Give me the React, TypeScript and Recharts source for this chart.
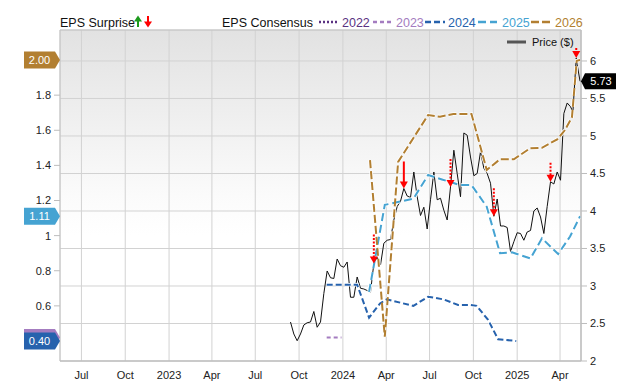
import React from 'react';
import { ComposedChart, Line, XAxis, YAxis, CartesianGrid, ReferenceDot, ReferenceArea } from 'recharts';

const FONT = '"Liberation Sans", Arial, Helvetica, sans-serif';

// ---------- data ----------
const xDomainDates = ['2022-05-17', '2025-05-15'];
const xTickDates = ['2022-07-01', '2022-10-01', '2023-01-01', '2023-04-01', '2023-07-01', '2023-10-01', '2024-01-01', '2024-04-01', '2024-07-01', '2024-10-01', '2025-01-01', '2025-04-01'];
const xTickLabels = ['Jul', 'Oct', '2023', 'Apr', 'Jul', 'Oct', '2024', 'Apr', 'Jul', 'Oct', '2025', 'Apr'];
const epsTicks = [0.6, 0.8, 1, 1.2, 1.4, 1.6, 1.8];
const priceTicks = [2, 2.5, 3, 3.5, 4, 4.5, 5, 5.5, 6];

const priceDates = [
  '2023-09-13', '2023-09-20', '2023-09-27', '2023-10-04', '2023-10-11', '2023-10-18', '2023-10-25', '2023-11-01', '2023-11-08', '2023-11-15',
  '2023-11-22', '2023-11-29', '2023-12-06', '2023-12-13', '2023-12-20', '2023-12-27', '2024-01-03', '2024-01-10', '2024-01-17', '2024-01-24',
  '2024-01-31', '2024-02-07', '2024-02-14', '2024-02-21', '2024-02-28', '2024-03-06', '2024-03-13', '2024-03-20', '2024-03-27', '2024-04-03',
  '2024-04-10', '2024-04-17', '2024-04-24', '2024-05-01', '2024-05-08', '2024-05-15', '2024-05-22', '2024-05-29', '2024-06-05', '2024-06-12',
  '2024-06-19', '2024-06-26', '2024-07-03', '2024-07-10', '2024-07-17', '2024-07-24', '2024-07-31', '2024-08-07', '2024-08-14', '2024-08-21',
  '2024-08-28', '2024-09-04', '2024-09-11', '2024-09-18', '2024-09-25', '2024-10-02', '2024-10-09', '2024-10-16', '2024-10-23', '2024-10-30',
  '2024-11-06', '2024-11-13', '2024-11-20', '2024-11-27', '2024-12-04', '2024-12-11', '2024-12-18', '2024-12-25', '2025-01-01', '2025-01-08',
  '2025-01-15', '2025-01-22', '2025-01-29', '2025-02-05', '2025-02-12', '2025-02-19', '2025-02-26', '2025-03-05', '2025-03-12', '2025-03-19',
  '2025-03-26', '2025-04-02', '2025-04-09', '2025-04-16', '2025-04-23', '2025-04-28', '2025-05-05', '2025-05-07', '2025-05-13',
];
const priceValues = [
  2.52, 2.36, 2.27, 2.36, 2.48, 2.51, 2.52, 2.66, 2.45, 2.52,
  2.90, 3.20, 3.11, 3.10, 3.36, 3.27, 3.25, 3.32, 2.85, 2.85,
  3.12, 2.97, 2.96, 2.94, 2.92, 3.30, 3.38, 3.28, 3.57, 3.61,
  3.62, 3.88, 4.06, 4.13, 4.30, 4.20, 4.18, 4.52, 4.19, 3.94,
  4.05, 3.76, 4.15, 4.52, 4.15, 4.17, 4.01, 3.88, 4.32, 4.81,
  4.50, 4.19, 5.04, 5.01, 4.72, 4.47, 4.50, 4.79, 4.57, 4.50,
  4.37, 3.93, 4.16, 3.80, 3.80, 3.78, 3.46, 3.59, 3.71, 3.70,
  3.61, 3.72, 3.74, 4.00, 4.04, 3.92, 3.70, 4.06, 4.39, 4.36,
  4.52, 4.41, 5.30, 5.44, 5.39, 5.32, 6.04, 5.95, 5.73,
];

const eps2023Dates = ['2023-11-28', '2023-12-29'];
const eps2023Values = [0.42, 0.42];

const eps2024Dates = ['2023-11-28', '2024-01-31', '2024-02-25', '2024-03-19', '2024-04-02', '2024-05-28', '2024-06-28', '2024-07-30', '2024-08-30', '2024-09-24', '2024-10-08', '2024-11-01', '2024-11-22', '2024-12-30'];
const eps2024Values = [0.72, 0.72, 0.533, 0.614, 0.637, 0.60, 0.652, 0.637, 0.605, 0.605, 0.60, 0.52, 0.41, 0.40];

const eps2025Dates = ['2024-02-25', '2024-03-29', '2024-05-28', '2024-06-28', '2024-07-27', '2024-09-03', '2024-09-27', '2024-10-29', '2024-11-26', '2024-12-21', '2025-01-29', '2025-02-22', '2025-03-28', '2025-04-22', '2025-05-13'];
const eps2025Values = [0.68, 1.175, 1.21, 1.345, 1.32, 1.288, 1.288, 1.165, 0.90, 0.905, 0.87, 0.985, 0.895, 0.995, 1.11];

const eps2026Dates = ['2024-02-27', '2024-03-29', '2024-04-26', '2024-06-28', '2024-07-23', '2024-08-20', '2024-09-27', '2024-10-29', '2024-11-26', '2024-12-25', '2025-01-28', '2025-02-22', '2025-03-26', '2025-04-11', '2025-04-26', '2025-05-06', '2025-05-13'];
const eps2026Values = [1.43, 0.424, 1.42, 1.687, 1.677, 1.693, 1.693, 1.374, 1.435, 1.435, 1.497, 1.50, 1.548, 1.60, 1.674, 1.996, 2.00];

const surpriseDates = ['2024-03-06', '2024-05-08', '2024-08-14', '2024-11-13', '2025-03-12', '2025-05-05'];
const surpriseKinds = ['dotted', 'solid', 'dotted', 'dotted', 'dotted', 'dotted'];

const legendYears = ['2022', '2023', '2024', '2025', '2026'];

// ---------- styles ----------
const COLORS: Record<string, string> = {
  '2022': '#5a3282',
  '2023': '#a47cc0',
  '2024': '#2662ad',
  '2025': '#45a3d2',
  '2026': '#b27f31',
};
const DASHES: Record<string, string> = {
  '2022': '2 2',
  '2023': '4 3',
  '2024': '6 3',
  '2025': '8 4',
  '2026': '8 3',
};
const ARROW_LEN = [29, 27, 28, 28, 19, 10];
// badges whose label is fully hidden behind another badge
const HIDDEN_BADGE_LABEL: Record<string, boolean> = { '2023': true };

// ---------- helpers ----------
const toT = (s: string) => {
  const p = s.split('-').map(Number);
  return Date.UTC(p[0], p[1] - 1, p[2]);
};
const mk = (dates: string[], vals: number[]) => dates.map((d, i) => ({ t: toT(d), v: vals[i] }));

const priceData = mk(priceDates, priceValues);
const consensus = [
  { year: '2023', data: mk(eps2023Dates, eps2023Values) },
  { year: '2024', data: mk(eps2024Dates, eps2024Values) },
  { year: '2025', data: mk(eps2025Dates, eps2025Values) },
  { year: '2026', data: mk(eps2026Dates, eps2026Values) },
];
const X_DOMAIN = [toT(xDomainDates[0]), toT(xDomainDates[1])];
const X_TICKS = xTickDates.map(toT);
const EPS_DOMAIN = [0.286, 2.171];
const PRICE_DOMAIN = [2, 6.413];

const surprises = surpriseDates.map((d, i) => {
  const idx = priceDates.indexOf(d);
  return { t: toT(d), v: priceValues[idx], kind: surpriseKinds[i], len: ARROW_LEN[i] };
});

const lastPrice = priceValues[priceValues.length - 1];

const LeftBadge = (p: any) => {
  const { cx, cy, fill, label } = p;
  if (cx == null || cy == null) return null;
  const h = 8.5;
  const d = `M${cx - 36},${cy - h} H${cx - 5} L${cx},${cy} L${cx - 5},${cy + h} H${cx - 36} Z`;
  return (
    <g>
      <path d={d} fill={fill} />
      {label ? (
        <text x={cx - 20.5} y={cy + 4} textAnchor="middle" fill="#fff" fontSize={11} fontFamily={FONT}>{label}</text>
      ) : null}
    </g>
  );
};

const PriceBadge = (p: any) => {
  const { cx, cy } = p;
  if (cx == null || cy == null) return null;
  const h = 8;
  const d = `M${cx},${cy} L${cx + 4},${cy - h} H${cx + 35} V${cy + h} H${cx + 4} Z`;
  return (
    <g>
      <path d={d} fill="#000" />
      <text x={cx + 20} y={cy + 4} textAnchor="middle" fill="#fff" fontSize={11} fontFamily={FONT}>{lastPrice.toFixed(2)}</text>
    </g>
  );
};

const makeArrow = (len: number, solid: boolean) => (p: any) => {
  const { cx, cy } = p;
  if (cx == null || cy == null) return null;
  const headH = 7;
  const headW = 4;
  return (
    <g>
      <line x1={cx} y1={cy - len} x2={cx} y2={cy - headH + 0.5} stroke="#ff0000" strokeWidth={2} strokeDasharray={solid ? undefined : '2 1.5'} />
      <path d={`M${cx - headW},${cy - headH} L${cx + headW},${cy - headH} L${cx},${cy} Z`} fill="#ff0000" />
    </g>
  );
};

const tickFmt = (v: number) => {
  const i = X_TICKS.indexOf(v);
  return i >= 0 ? xTickLabels[i] : '';
};

const Legend = () => {
  const y = 22;
  const items = [
    { x1: 319, x2: 338, tx: 342 },
    { x1: 373, x2: 392, tx: 396 },
    { x1: 425, x2: 445, tx: 448 },
    { x1: 478, x2: 497, tx: 502 },
    { x1: 531, x2: 552, tx: 555 },
  ];
  return (
    <svg width={640} height={60} style={{ position: 'absolute', left: 0, top: 0, pointerEvents: 'none' }}>
      <g fontFamily={FONT} fontSize={12.5}>
        <text x={60} y={27} fill="#111">EPS Surprise</text>
        <g>
          <line x1={138} y1={27} x2={138} y2={21} stroke="#1d9a1d" strokeWidth={2} />
          <path d="M134,21.5 L142,21.5 L138,15.5 Z" fill="#1d9a1d" />
          <line x1={148} y1={16} x2={148} y2={22} stroke="#ff0000" strokeWidth={2} />
          <path d="M144,21.5 L152,21.5 L148,27.5 Z" fill="#ff0000" />
        </g>
        <text x={222} y={27} fill="#111">EPS Consensus</text>
        {legendYears.map((yr, i) => (
          <g key={yr}>
            <line x1={items[i].x1} y1={y} x2={items[i].x2} y2={y} stroke={COLORS[yr]} strokeWidth={2.5} strokeDasharray={DASHES[yr]} />
            <text x={items[i].tx} y={27} fill={COLORS[yr]}>{yr}</text>
          </g>
        ))}
      </g>
      <g fontFamily={FONT}>
        <line x1={507} y1={42} x2={526} y2={42} stroke="#555" strokeWidth={3} />
        <text x={532} y={46} fontSize={11} fill="#111">Price ($)</text>
      </g>
    </svg>
  );
};

export default function App() {
  return (
    <div style={{ position: 'absolute', left: 0, top: 0, width: 640, height: 382, background: '#fff', fontFamily: FONT }}>
      <ComposedChart width={640} height={382} margin={{ top: 30, right: 0, bottom: 0, left: 0 }}>
        <defs>
          <linearGradient id="bgGrad" x1="0" y1="0" x2="0" y2="1">
            <stop offset="0" stopColor="#e2e2e2" />
            <stop offset="0.5" stopColor="#fbfbfb" />
            <stop offset="0.62" stopColor="#ffffff" />
          </linearGradient>
        </defs>
        <XAxis
          type="number"
          dataKey="t"
          domain={X_DOMAIN}
          ticks={X_TICKS}
          tickFormatter={tickFmt}
          allowDataOverflow
          height={21}
          tickLine={false}
          tickSize={6}
          tickMargin={4}
          axisLine={{ stroke: '#bdbdbd' }}
          tick={{ fontSize: 11, fill: '#222' }}
          interval={0}
        />
        <YAxis
          yAxisId="eps"
          orientation="left"
          width={60}
          domain={EPS_DOMAIN}
          ticks={epsTicks}
          allowDataOverflow
          axisLine={false}
          tickLine={{ stroke: '#bdbdbd' }}
          tickSize={6}
          tickMargin={3}
          tick={{ fontSize: 11, fill: '#222' }}
          interval={0}
        />
        <YAxis
          orientation="right"
          width={59}
          domain={PRICE_DOMAIN}
          ticks={priceTicks}
          allowDataOverflow
          axisLine={{ stroke: '#bdbdbd' }}
          tickLine={{ stroke: '#bdbdbd' }}
          tickSize={6}
          tickMargin={3}
          tick={{ fontSize: 11, fill: '#222' }}
          interval={0}
        />
        <CartesianGrid stroke="#d2d2d2" fill="url(#bgGrad)" fillOpacity={1} />
        <ReferenceArea x1={X_DOMAIN[0]} x2={X_DOMAIN[1]} y1={PRICE_DOMAIN[0]} y2={PRICE_DOMAIN[1]} fill="none" stroke="#c4c4c4" strokeWidth={1} />
        <Line data={priceData} dataKey="v" stroke="#111" strokeWidth={1} dot={false} activeDot={false} isAnimationActive={false} />
        {consensus.map((s) => (
          <Line
            key={'h' + s.year}
            data={s.data}
            dataKey="v"
            yAxisId="eps"
            stroke="#ffffff"
            strokeWidth={3.6}
            strokeDasharray={DASHES[s.year]}
            dot={false}
            activeDot={false}
            isAnimationActive={false}
          />
        ))}
        {consensus.map((s) => (
          <Line
            key={'l' + s.year}
            data={s.data}
            dataKey="v"
            yAxisId="eps"
            stroke={COLORS[s.year]}
            strokeWidth={2}
            strokeDasharray={DASHES[s.year]}
            dot={false}
            activeDot={false}
            isAnimationActive={false}
          />
        ))}
        {surprises.map((s, i) => (
          <ReferenceDot key={'a' + i} x={s.t} y={s.v} shape={makeArrow(s.len, s.kind === 'solid')} />
        ))}
        {consensus.map((s) => {
          const last = s.data[s.data.length - 1].v;
          return (
            <ReferenceDot
              key={'b' + s.year}
              x={X_DOMAIN[0]}
              y={last}
              yAxisId="eps"
              shape={(p: any) => (
                <LeftBadge {...p} fill={COLORS[s.year]} label={HIDDEN_BADGE_LABEL[s.year] ? '' : last.toFixed(2)} />
              )}
            />
          );
        })}
        <ReferenceDot x={X_DOMAIN[1]} y={lastPrice} shape={(p: any) => <PriceBadge {...p} />} />
      </ComposedChart>
      <Legend />
    </div>
  );
}
